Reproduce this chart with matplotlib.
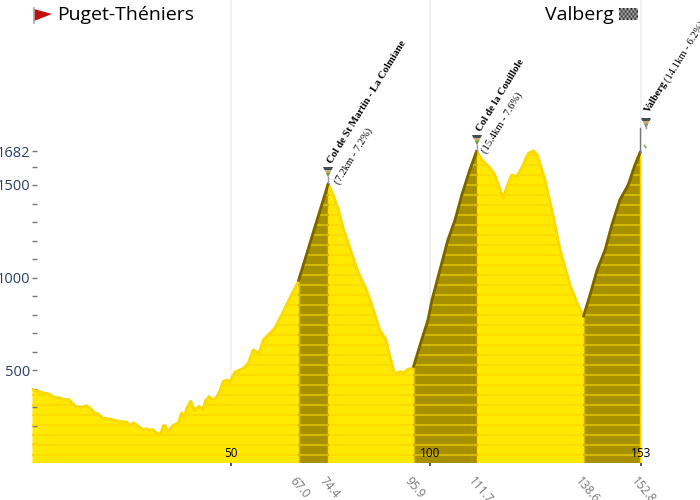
import numpy as np
from matplotlib import pyplot as plt
from matplotlib.patches import Polygon

# elevation profile, km from the start / metres
km = [0, 1.17, 2.85, 4.36, 5.36, 7.04, 7.87, 9.3, 10.4, 11.06, 12.9, 13.57, 14.57, 15.58, 16.67,
      17.92, 19.6, 20.85, 22.11, 23.79, 24.62, 25.46, 26.3, 27.97, 28.81, 29.65, 30.32, 31.74,
      32.41, 33, 33.5, 34.09, 35.51, 36.77, 37.6, 38.19, 38.86, 39.87, 40.87, 41.96, 42.88,
      43.72, 44.56, 45.14, 46.23, 47.23, 48.07, 49.08, 49.58, 51, 53.1, 54.3, 55.6, 57.1, 58.1,
      59.3, 61.06, 63.07, 64.8, 66.6, 67.0, 74.4, 75.7, 77, 78.2, 79.9, 81.6, 82.6, 83.7, 85,
      87.4, 89, 89.5, 91, 91.6, 92.5, 93.3, 94.5, 95.6, 95.9, 97.5, 99.5, 100.5, 102.5, 104.5,
      106.3, 108, 110, 111.7, 113.1, 114.8, 116.1, 116.9, 118.4, 119.3, 120.5, 121.8, 123,
      124.7, 126, 127, 128.9, 130.9, 132.7, 135.2, 137.2, 138.6, 140.2, 142, 144, 145.7, 147.7,
      149.8, 151.5, 152.8]
elev = [395, 386, 377, 370, 354, 349, 341, 340, 316, 302, 300, 307, 296, 271, 262,
        239, 235, 228, 221, 219, 199, 214, 203, 176, 183, 174, 179, 152,
        161, 199, 199, 167, 201, 215, 269, 237, 293, 331, 280, 304, 287,
        338, 356, 341, 349, 388, 439, 446, 433, 489, 509, 536, 608, 593, 662,
        689, 727, 813, 889, 965, 985, 1505, 1446, 1365, 1266, 1158, 1050, 996, 950, 878,
        716, 662, 608, 491, 482, 491, 485, 504, 509, 520, 635, 770, 878, 1041, 1203,
        1311, 1446, 1581, 1682, 1635, 1599, 1563, 1518, 1428, 1491, 1554, 1545, 1590,
        1671, 1685, 1662, 1527, 1338, 1149, 959, 851, 792, 905, 1041, 1149, 1284, 1419,
        1500, 1608, 1676]

climbs = [(67.0, 74.4), (95.9, 111.7), (138.6, 152.8)]
climb_labels = ['67.0', '74.4', '95.9', '111.7', '138.6', '152.8']
km_ticks = [50, 100, 153]
y_major = [500, 1000, 1500, 1682]
y_minor = [100, 200, 300, 400, 600, 700, 800, 900, 1100, 1200, 1300, 1400, 1600]

km = np.array(km)
elev = np.array(elev)

YELLOW = '#ffe900'
DARK = '#a69000'
px_km = 3.98
px_m = 0.185

fig = plt.figure(figsize=(7, 5), dpi=100)
ax = fig.add_axes([32 / 700, 37.5 / 500, 668 / 700, 462.5 / 500])
ax.set_xlim(0, 668 / px_km)
ax.set_ylim(0, 462.5 / px_m)
for s in ax.spines.values():
    s.set_visible(False)

# grid lines at the km ticks
for k in km_ticks:
    ax.axvline(k, color='#eeeeee', lw=1.2, zorder=0)

base = ax.fill_between(km, elev, color=YELLOW, lw=0, zorder=2)
ax.plot(km, elev, color='#fad800', lw=2, zorder=3)

# steep sections in a darker tone, with a brown edge
for a, b in climbs:
    m = (km >= a) & (km <= b)
    ax.fill_between(km[m], elev[m], color=DARK, lw=0, zorder=4)
    ax.plot(km[m], elev[m], color='#7a6400', lw=2, zorder=6)
    ax.axvline(a, color='#d2b900', lw=1, ymax=elev[m][0] / 2500, zorder=5)
    ax.axvline(b, color='#ffd800', lw=1, ymax=elev[m][-1] / 2500, zorder=5)

# horizontal stripes, clipped to the profile
profile = base.get_paths()[0]
for i in range(32):
    level = (7.5 + 10 * i) / px_m
    ax.axhline(level, color='#fcdc00', lw=1.5, zorder=3).set_clip_path(profile, ax.transData)
    for a, b in climbs:
        ln, = ax.plot([a, b], [level, level], color='#d2b900', lw=1.5, zorder=5)
        ln.set_clip_path(profile, ax.transData)

ax.set_xticks(km_ticks)
ax.set_xticklabels([])
ax.tick_params(axis='x', direction='out', length=2.5, width=1.4, color='#555555', pad=0)
ax.set_yticks(y_major)
ax.set_yticks(y_minor, minor=True)
ax.tick_params(axis='y', which='both', direction='in', length=3.6, width=1, color='#777777',
               labelsize=10.5, labelcolor='#2a3f5f', pad=1)
ax.set_axisbelow(False)
for t in ax.get_yticklabels():
    t.set_fontfamily('Open Sans')
for t in ax.yaxis.get_major_ticks() + ax.yaxis.get_minor_ticks():
    t.tick1line.set_zorder(8)

for k in km_ticks:
    ax.annotate(str(k), (k, 0), xytext=(0, 1.5), textcoords='offset points', ha='center', va='bottom',
                fontsize=8.5, family='Open Sans', color='black', zorder=9)
for a, lab in zip([c for pair in climbs for c in pair], climb_labels):
    ax.annotate(lab, (a, 0), xytext=(-1, -9), textcoords='offset points', ha='left', va='top',
                rotation=-50, rotation_mode='anchor', fontsize=8.5, family='Open Sans', color='#777777')

# overlay in pixel coordinates for the flags, summit icons and pass names
deco = fig.add_axes([0, 0, 1, 1], facecolor='none')
deco.axis('off')

checker = np.indices((5, 10)).sum(axis=0) % 2 * 0.7 + 0.1
deco.imshow(checker, cmap='gray', vmin=0, vmax=1, extent=(619, 638, 20, 8), aspect='auto',
            interpolation='bilinear')
deco.set_xlim(0, 700)
deco.set_ylim(500, 0)

deco.plot([33.5, 33.5], [8, 23], color='#aaaaaa', lw=1.2)
deco.add_patch(Polygon([(34, 9), (52, 14), (34, 21)], color='#c01010', lw=0))

NARROW = ['Liberation Sans Narrow', 'Open Sans']
deco.text(57, 14.5, 'Puget-Théniers', family=NARROW, fontsize=14, va='center', ha='left', color='black')
deco.text(614, 14.5, 'Valberg', family=NARROW, fontsize=14, va='center', ha='right', color='black')


def summit(x, y, base_y):
    # grey stem and little mountain icon over a summit
    deco.plot([x, x], [base_y, y + 5], color='#999999', lw=1)
    deco.add_patch(Polygon([(x - 5, y - 5), (x + 5, y - 5), (x, y + 5)], color='#c9b070', lw=0))
    deco.add_patch(Polygon([(x - 5, y - 5), (x + 5, y - 5), (x + 3.5, y - 2), (x - 3.5, y - 2)],
                           color='#3f4f55', lw=0))
    deco.add_patch(Polygon([(x - 2, y + 1), (x + 2.5, y + 0.5), (x, y + 5)], color='#6f9a45', lw=0))


summit(328, 172, 183)
summit(477, 140, 152)
summit(646, 123, 123)
deco.plot([640, 640], [128, 152], color='#777777', lw=1)
deco.plot([644.5, 646], [145.5, 147.5], color='#7fae6a', lw=1.2)

SERIF = 'Liberation Serif'
ANGLE = 58.6
deco.text(330, 163, 'Col de St Martin - La Colmiane', family=SERIF, weight='bold', fontsize=7.6,
          rotation=ANGLE, rotation_mode='anchor', va='center', ha='left')
deco.text(337, 183, '(7.2km - 7.2%)', family=SERIF, fontsize=7.6,
          rotation=ANGLE, rotation_mode='anchor', va='center', ha='left')
deco.text(479, 131, 'Col de la Couillole', family=SERIF, weight='bold', fontsize=7.6,
          rotation=ANGLE, rotation_mode='anchor', va='center', ha='left')
deco.text(484, 152, '(15.4km - 7.6%)', family=SERIF, fontsize=7.6,
          rotation=ANGLE, rotation_mode='anchor', va='center', ha='left')
deco.text(647, 112, 'Valberg', family=SERIF, weight='bold', fontsize=7.6,
          rotation=ANGLE, rotation_mode='anchor', va='center', ha='left')
deco.text(667, 81, '(14.1km - 6.2%)', family=SERIF, fontsize=7.6,
          rotation=ANGLE, rotation_mode='anchor', va='center', ha='left')

plt.savefig('out.png', dpi=100)
